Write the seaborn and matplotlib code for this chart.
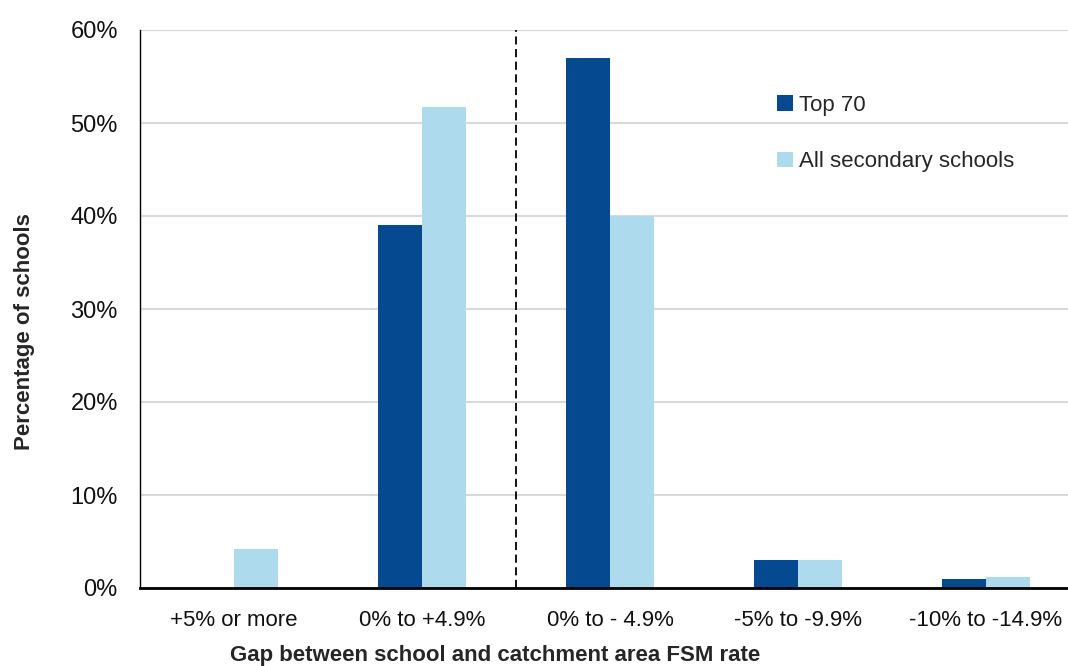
import pandas as pd
import matplotlib
matplotlib.use("Agg")
import matplotlib.pyplot as plt
import seaborn as sns
from matplotlib.ticker import PercentFormatter

gap_bands = ['+5% or more', '0% to +4.9%', '0% to - 4.9%', '-5% to -9.9%', '-10% to -14.9%']
top70 = [0.0, 39.0, 57.0, 3.0, 1.0]
all_secondary = [4.2, 51.7, 40.0, 3.0, 1.2]
series_names = ['Top 70', 'All secondary schools']
colours = ['#054991', '#AEDAEE']

df = pd.DataFrame({
    'Gap': gap_bands * 2,
    'Share': top70 + all_secondary,
    'Group': [series_names[0]] * len(gap_bands) + [series_names[1]] * len(gap_bands),
})

sns.set_style('white')
plt.rcParams['font.family'] = ['Liberation Sans', 'DejaVu Sans']

fig = plt.figure(figsize=(10.68, 6.66), dpi=100)
ax = fig.add_axes([140 / 1068, 78 / 666, 928 / 1068, 558 / 666])

sns.barplot(data=df, x='Gap', y='Share', hue='Group', palette=colours,
            width=0.47, saturation=1, linewidth=0, ax=ax)

ax.set_xlim(-0.5, -0.5 + 928 / 188)
ax.set_ylim(0, 60)
ax.set_yticks(range(0, 61, 10))
ax.yaxis.set_major_formatter(PercentFormatter(decimals=0))

# light horizontal gridlines behind the bars
ax.set_axisbelow(True)
ax.yaxis.grid(True, color='#d9d9d9', linewidth=1.5)

# dashed divider between positive and negative gaps
ax.axvline(1.5, color='black', linestyle=(0, (4.5, 2.5)), linewidth=1.3)

sns.despine(ax=ax, top=True, right=True)
ax.spines['left'].set_linewidth(1.0)
ax.spines['left'].set_color('black')
ax.spines['bottom'].set_linewidth(2.0)
ax.spines['bottom'].set_color('black')

ax.tick_params(axis='x', length=0, pad=16, labelsize=16, colors='#111111')
ax.tick_params(axis='y', length=0, pad=16, labelsize=17, colors='#111111')

ax.set_ylabel('Percentage of schools', fontsize=16, fontweight='bold')
ax.yaxis.set_label_coords(-0.113, 0.459)
ax.set_xlabel('Gap between school and catchment area FSM rate', fontsize=16, fontweight='bold')
ax.xaxis.set_label_coords(0.383, -0.103)

ax.legend(loc='upper left', bbox_to_anchor=(0.665, 0.92), frameon=False,
          fontsize=16, handlelength=0.7, handleheight=0.7, handletextpad=0.3,
          labelspacing=1.6)

fig.savefig('out.png', dpi=100)
